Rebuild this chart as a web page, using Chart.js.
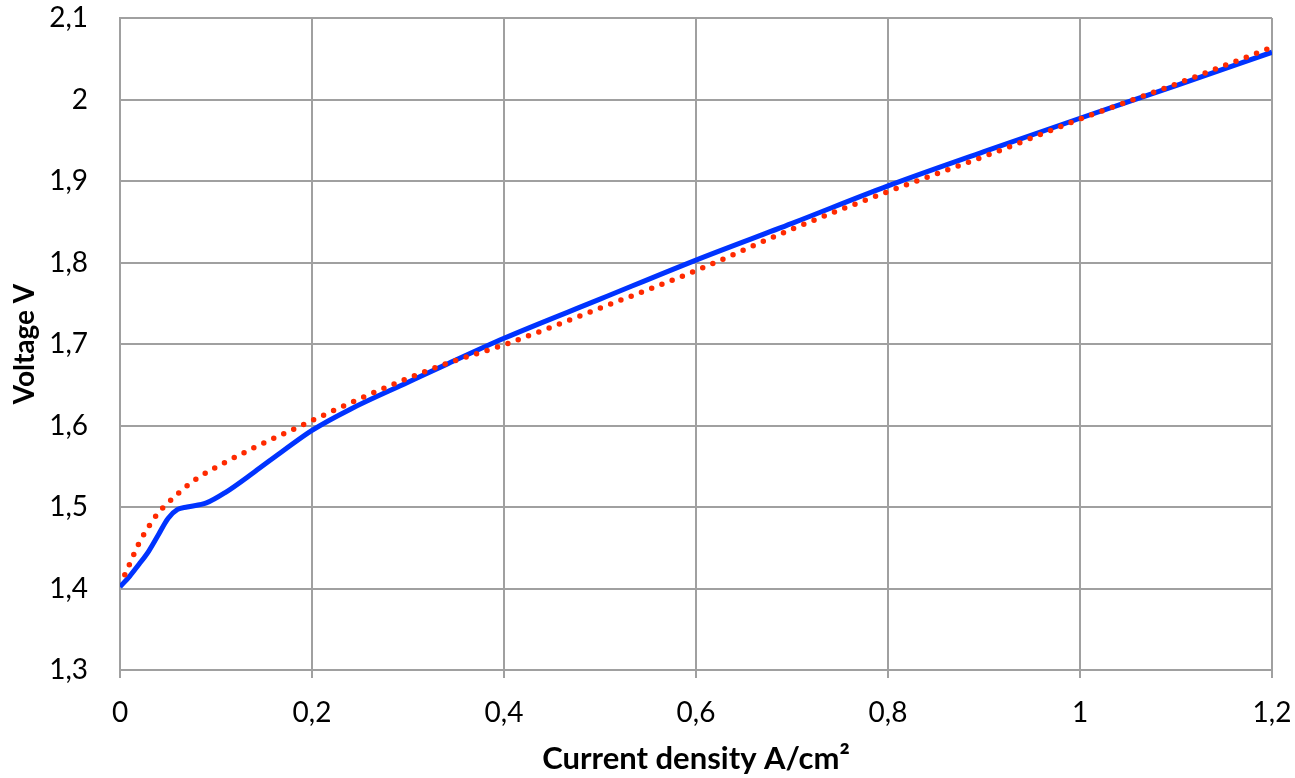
<!DOCTYPE html>
<html>
<head>
<meta charset="utf-8">
<script src="https://cdn.jsdelivr.net/npm/chart.js@4"></script>
<style>
  html, body { margin: 0; padding: 0; background: #fff; }
  #wrap { width: 1295px; height: 778px; }
</style>
</head>
<body>
<div id="wrap"><canvas id="canvas"></canvas></div>
<script>
// measured curve (blue, solid)
const measX = [0, 0.01, 0.02, 0.03, 0.04, 0.05, 0.06, 0.07, 0.09, 0.11, 0.14, 0.17, 0.20, 0.24, 0.30, 0.34, 0.40, 0.50, 0.60, 0.70, 0.80, 0.90, 1.00, 1.10, 1.20];
const measY = [1.402, 1.415, 1.430, 1.446, 1.466, 1.486, 1.497, 1.500, 1.505, 1.518, 1.543, 1.569, 1.594, 1.620, 1.653, 1.675, 1.707, 1.755, 1.803, 1.848, 1.894, 1.936, 1.977, 2.017, 2.058];

// fitted curve (red, dotted)
const fitX = [0.005, 0.01, 0.02, 0.03, 0.04, 0.05, 0.06, 0.08, 0.11, 0.14, 0.18, 0.20, 0.22, 0.25, 0.30, 0.34, 0.40, 0.50, 0.60, 0.70, 0.80, 0.90, 1.00, 1.10, 1.20];
const fitY = [1.417, 1.430, 1.456, 1.476, 1.493, 1.505, 1.516, 1.535, 1.555, 1.573, 1.595, 1.606, 1.617, 1.633, 1.658, 1.676, 1.699, 1.744, 1.790, 1.841, 1.887, 1.930, 1.976, 2.019, 2.064];

const xTicks = [0, 0.2, 0.4, 0.6, 0.8, 1.0, 1.2];
const xTickLabels = ["0", "0,2", "0,4", "0,6", "0,8", "1", "1,2"];
const yTicks = [1.3, 1.4, 1.5, 1.6, 1.7, 1.8, 1.9, 2.0, 2.1];
const yTickLabels = ["1,3", "1,4", "1,5", "1,6", "1,7", "1,8", "1,9", "2", "2,1"];

const gridColor = "#a0a0a0";
const font = "Lato, 'Open Sans', sans-serif";

const ctx = document.getElementById("canvas").getContext("2d");
new Chart(ctx, {
    type: "line",
    data: {
        datasets: [
            {
                label: "fit",
                data: fitX.map((x, i) => ({ x: x, y: fitY[i] })),
                borderColor: "#ff2a00",
                borderWidth: 5.5,
                borderDash: [0, 11],
                borderCapStyle: "round",
                pointRadius: 0,
                cubicInterpolationMode: "monotone",
                fill: false
            },
            {
                label: "measured",
                data: measX.map((x, i) => ({ x: x, y: measY[i] })),
                borderColor: "#0033ff",
                borderWidth: 5,
                pointRadius: 0,
                cubicInterpolationMode: "monotone",
                fill: false
            }
        ]
    },
    options: {
        responsive: true,
        maintainAspectRatio: false,
        animation: false,
        layout: { padding: { left: 8, right: 23, top: 18, bottom: 0 } },
        plugins: { legend: { display: false }, tooltip: { enabled: false } },
        scales: {
            x: {
                type: "linear",
                min: 0,
                max: 1.2,
                afterBuildTicks: s => { s.ticks = xTicks.map(v => ({ value: v })); },
                afterFit: s => { s.height = 108; s.paddingLeft = 0; s.paddingRight = 0; },
                grid: { color: gridColor, lineWidth: 2, tickLength: 8 },
                border: { color: gridColor, width: 2 },
                ticks: {
                    color: "#000",
                    padding: 18,
                    maxRotation: 0,
                    font: { family: font, size: 28 },
                    callback: (v, i) => xTickLabels[i]
                },
                title: {
                    display: true,
                    text: "Current density A/cm²",
                    color: "#000",
                    font: { family: font, size: 31, weight: "bold" },
                    padding: { top: 0, bottom: 0 }
                }
            },
            y: {
                min: 1.3,
                max: 2.1,
                afterBuildTicks: s => { s.ticks = yTicks.map(v => ({ value: v })); },
                afterFit: s => { s.width = 112; s.paddingTop = 0; s.paddingBottom = 0; },
                grid: { color: gridColor, lineWidth: 2, drawTicks: false },
                border: { color: gridColor, width: 2 },
                ticks: {
                    color: "#000",
                    padding: 32,
                    font: { family: font, size: 28 },
                    callback: (v, i) => yTickLabels[i]
                },
                title: {
                    display: true,
                    text: "Voltage V",
                    color: "#000",
                    font: { family: font, size: 28, weight: "bold" },
                    padding: { top: 0, bottom: 0 }
                }
            }
        }
    }
});
</script>
</body>
</html>
